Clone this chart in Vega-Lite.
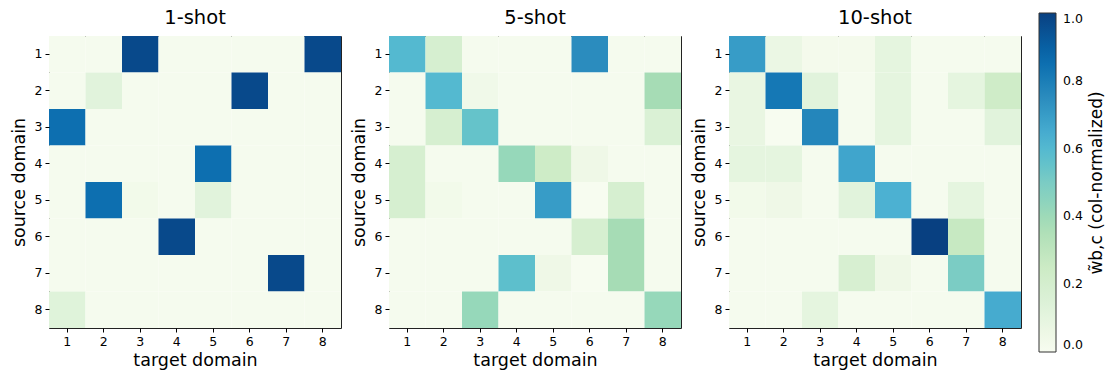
{
  "$schema": "https://vega.github.io/schema/vega-lite/v6.json",
  "padding": {"left": 9, "top": 7, "right": 5, "bottom": 5},
  "background": "white",
  "data": {"values": [
    {"shot":"1-shot","src":1,"tgt":1,"v":0.01},{"shot":"1-shot","src":1,"tgt":2,"v":0.01},{"shot":"1-shot","src":1,"tgt":3,"v":0.97},{"shot":"1-shot","src":1,"tgt":4,"v":0.01},{"shot":"1-shot","src":1,"tgt":5,"v":0.01},{"shot":"1-shot","src":1,"tgt":6,"v":0.01},{"shot":"1-shot","src":1,"tgt":7,"v":0.01},{"shot":"1-shot","src":1,"tgt":8,"v":0.97},
    {"shot":"1-shot","src":2,"tgt":1,"v":0.01},{"shot":"1-shot","src":2,"tgt":2,"v":0.12},{"shot":"1-shot","src":2,"tgt":3,"v":0.01},{"shot":"1-shot","src":2,"tgt":4,"v":0.01},{"shot":"1-shot","src":2,"tgt":5,"v":0.01},{"shot":"1-shot","src":2,"tgt":6,"v":0.97},{"shot":"1-shot","src":2,"tgt":7,"v":0.01},{"shot":"1-shot","src":2,"tgt":8,"v":0.01},
    {"shot":"1-shot","src":3,"tgt":1,"v":0.85},{"shot":"1-shot","src":3,"tgt":2,"v":0.01},{"shot":"1-shot","src":3,"tgt":3,"v":0.01},{"shot":"1-shot","src":3,"tgt":4,"v":0.01},{"shot":"1-shot","src":3,"tgt":5,"v":0.01},{"shot":"1-shot","src":3,"tgt":6,"v":0.01},{"shot":"1-shot","src":3,"tgt":7,"v":0.01},{"shot":"1-shot","src":3,"tgt":8,"v":0.01},
    {"shot":"1-shot","src":4,"tgt":1,"v":0.01},{"shot":"1-shot","src":4,"tgt":2,"v":0.01},{"shot":"1-shot","src":4,"tgt":3,"v":0.01},{"shot":"1-shot","src":4,"tgt":4,"v":0.01},{"shot":"1-shot","src":4,"tgt":5,"v":0.85},{"shot":"1-shot","src":4,"tgt":6,"v":0.01},{"shot":"1-shot","src":4,"tgt":7,"v":0.01},{"shot":"1-shot","src":4,"tgt":8,"v":0.01},
    {"shot":"1-shot","src":5,"tgt":1,"v":0.01},{"shot":"1-shot","src":5,"tgt":2,"v":0.85},{"shot":"1-shot","src":5,"tgt":3,"v":0.03},{"shot":"1-shot","src":5,"tgt":4,"v":0.01},{"shot":"1-shot","src":5,"tgt":5,"v":0.12},{"shot":"1-shot","src":5,"tgt":6,"v":0.01},{"shot":"1-shot","src":5,"tgt":7,"v":0.01},{"shot":"1-shot","src":5,"tgt":8,"v":0.01},
    {"shot":"1-shot","src":6,"tgt":1,"v":0.01},{"shot":"1-shot","src":6,"tgt":2,"v":0.01},{"shot":"1-shot","src":6,"tgt":3,"v":0.01},{"shot":"1-shot","src":6,"tgt":4,"v":0.97},{"shot":"1-shot","src":6,"tgt":5,"v":0.01},{"shot":"1-shot","src":6,"tgt":6,"v":0.01},{"shot":"1-shot","src":6,"tgt":7,"v":0.01},{"shot":"1-shot","src":6,"tgt":8,"v":0.01},
    {"shot":"1-shot","src":7,"tgt":1,"v":0.01},{"shot":"1-shot","src":7,"tgt":2,"v":0.01},{"shot":"1-shot","src":7,"tgt":3,"v":0.01},{"shot":"1-shot","src":7,"tgt":4,"v":0.01},{"shot":"1-shot","src":7,"tgt":5,"v":0.01},{"shot":"1-shot","src":7,"tgt":6,"v":0.01},{"shot":"1-shot","src":7,"tgt":7,"v":0.97},{"shot":"1-shot","src":7,"tgt":8,"v":0.01},
    {"shot":"1-shot","src":8,"tgt":1,"v":0.13},{"shot":"1-shot","src":8,"tgt":2,"v":0.01},{"shot":"1-shot","src":8,"tgt":3,"v":0.01},{"shot":"1-shot","src":8,"tgt":4,"v":0.01},{"shot":"1-shot","src":8,"tgt":5,"v":0.01},{"shot":"1-shot","src":8,"tgt":6,"v":0.01},{"shot":"1-shot","src":8,"tgt":7,"v":0.01},{"shot":"1-shot","src":8,"tgt":8,"v":0.01},

    {"shot":"5-shot","src":1,"tgt":1,"v":0.6},{"shot":"5-shot","src":1,"tgt":2,"v":0.19},{"shot":"5-shot","src":1,"tgt":3,"v":0.01},{"shot":"5-shot","src":1,"tgt":4,"v":0.01},{"shot":"5-shot","src":1,"tgt":5,"v":0.01},{"shot":"5-shot","src":1,"tgt":6,"v":0.75},{"shot":"5-shot","src":1,"tgt":7,"v":0.01},{"shot":"5-shot","src":1,"tgt":8,"v":0.01},
    {"shot":"5-shot","src":2,"tgt":1,"v":0.01},{"shot":"5-shot","src":2,"tgt":2,"v":0.6},{"shot":"5-shot","src":2,"tgt":3,"v":0.04},{"shot":"5-shot","src":2,"tgt":4,"v":0.01},{"shot":"5-shot","src":2,"tgt":5,"v":0.01},{"shot":"5-shot","src":2,"tgt":6,"v":0.01},{"shot":"5-shot","src":2,"tgt":7,"v":0.01},{"shot":"5-shot","src":2,"tgt":8,"v":0.38},
    {"shot":"5-shot","src":3,"tgt":1,"v":0.01},{"shot":"5-shot","src":3,"tgt":2,"v":0.19},{"shot":"5-shot","src":3,"tgt":3,"v":0.55},{"shot":"5-shot","src":3,"tgt":4,"v":0.01},{"shot":"5-shot","src":3,"tgt":5,"v":0.01},{"shot":"5-shot","src":3,"tgt":6,"v":0.01},{"shot":"5-shot","src":3,"tgt":7,"v":0.01},{"shot":"5-shot","src":3,"tgt":8,"v":0.16},
    {"shot":"5-shot","src":4,"tgt":1,"v":0.19},{"shot":"5-shot","src":4,"tgt":2,"v":0.01},{"shot":"5-shot","src":4,"tgt":3,"v":0.01},{"shot":"5-shot","src":4,"tgt":4,"v":0.42},{"shot":"5-shot","src":4,"tgt":5,"v":0.24},{"shot":"5-shot","src":4,"tgt":6,"v":0.05},{"shot":"5-shot","src":4,"tgt":7,"v":0.01},{"shot":"5-shot","src":4,"tgt":8,"v":0.01},
    {"shot":"5-shot","src":5,"tgt":1,"v":0.19},{"shot":"5-shot","src":5,"tgt":2,"v":0.03},{"shot":"5-shot","src":5,"tgt":3,"v":0.01},{"shot":"5-shot","src":5,"tgt":4,"v":0.01},{"shot":"5-shot","src":5,"tgt":5,"v":0.7},{"shot":"5-shot","src":5,"tgt":6,"v":0.0},{"shot":"5-shot","src":5,"tgt":7,"v":0.19},{"shot":"5-shot","src":5,"tgt":8,"v":0.01},
    {"shot":"5-shot","src":6,"tgt":1,"v":0.01},{"shot":"5-shot","src":6,"tgt":2,"v":0.01},{"shot":"5-shot","src":6,"tgt":3,"v":0.01},{"shot":"5-shot","src":6,"tgt":4,"v":0.01},{"shot":"5-shot","src":6,"tgt":5,"v":0.01},{"shot":"5-shot","src":6,"tgt":6,"v":0.19},{"shot":"5-shot","src":6,"tgt":7,"v":0.38},{"shot":"5-shot","src":6,"tgt":8,"v":0.01},
    {"shot":"5-shot","src":7,"tgt":1,"v":0.01},{"shot":"5-shot","src":7,"tgt":2,"v":0.01},{"shot":"5-shot","src":7,"tgt":3,"v":0.01},{"shot":"5-shot","src":7,"tgt":4,"v":0.57},{"shot":"5-shot","src":7,"tgt":5,"v":0.05},{"shot":"5-shot","src":7,"tgt":6,"v":0.0},{"shot":"5-shot","src":7,"tgt":7,"v":0.38},{"shot":"5-shot","src":7,"tgt":8,"v":0.01},
    {"shot":"5-shot","src":8,"tgt":1,"v":0.01},{"shot":"5-shot","src":8,"tgt":2,"v":0.01},{"shot":"5-shot","src":8,"tgt":3,"v":0.42},{"shot":"5-shot","src":8,"tgt":4,"v":0.01},{"shot":"5-shot","src":8,"tgt":5,"v":0.01},{"shot":"5-shot","src":8,"tgt":6,"v":0.01},{"shot":"5-shot","src":8,"tgt":7,"v":0.01},{"shot":"5-shot","src":8,"tgt":8,"v":0.42},

    {"shot":"10-shot","src":1,"tgt":1,"v":0.7},{"shot":"10-shot","src":1,"tgt":2,"v":0.07},{"shot":"10-shot","src":1,"tgt":3,"v":0.02},{"shot":"10-shot","src":1,"tgt":4,"v":0.02},{"shot":"10-shot","src":1,"tgt":5,"v":0.1},{"shot":"10-shot","src":1,"tgt":6,"v":0.01},{"shot":"10-shot","src":1,"tgt":7,"v":0.01},{"shot":"10-shot","src":1,"tgt":8,"v":0.01},
    {"shot":"10-shot","src":2,"tgt":1,"v":0.08},{"shot":"10-shot","src":2,"tgt":2,"v":0.82},{"shot":"10-shot","src":2,"tgt":3,"v":0.12},{"shot":"10-shot","src":2,"tgt":4,"v":0.01},{"shot":"10-shot","src":2,"tgt":5,"v":0.1},{"shot":"10-shot","src":2,"tgt":6,"v":0.01},{"shot":"10-shot","src":2,"tgt":7,"v":0.1},{"shot":"10-shot","src":2,"tgt":8,"v":0.23},
    {"shot":"10-shot","src":3,"tgt":1,"v":0.08},{"shot":"10-shot","src":3,"tgt":2,"v":0.0},{"shot":"10-shot","src":3,"tgt":3,"v":0.77},{"shot":"10-shot","src":3,"tgt":4,"v":0.01},{"shot":"10-shot","src":3,"tgt":5,"v":0.1},{"shot":"10-shot","src":3,"tgt":6,"v":0.01},{"shot":"10-shot","src":3,"tgt":7,"v":0.01},{"shot":"10-shot","src":3,"tgt":8,"v":0.12},
    {"shot":"10-shot","src":4,"tgt":1,"v":0.1},{"shot":"10-shot","src":4,"tgt":2,"v":0.1},{"shot":"10-shot","src":4,"tgt":3,"v":0.01},{"shot":"10-shot","src":4,"tgt":4,"v":0.67},{"shot":"10-shot","src":4,"tgt":5,"v":0.01},{"shot":"10-shot","src":4,"tgt":6,"v":0.01},{"shot":"10-shot","src":4,"tgt":7,"v":0.01},{"shot":"10-shot","src":4,"tgt":8,"v":0.01},
    {"shot":"10-shot","src":5,"tgt":1,"v":0.03},{"shot":"10-shot","src":5,"tgt":2,"v":0.05},{"shot":"10-shot","src":5,"tgt":3,"v":0.01},{"shot":"10-shot","src":5,"tgt":4,"v":0.12},{"shot":"10-shot","src":5,"tgt":5,"v":0.63},{"shot":"10-shot","src":5,"tgt":6,"v":0.01},{"shot":"10-shot","src":5,"tgt":7,"v":0.1},{"shot":"10-shot","src":5,"tgt":8,"v":0.01},
    {"shot":"10-shot","src":6,"tgt":1,"v":0.01},{"shot":"10-shot","src":6,"tgt":2,"v":0.01},{"shot":"10-shot","src":6,"tgt":3,"v":0.01},{"shot":"10-shot","src":6,"tgt":4,"v":0.01},{"shot":"10-shot","src":6,"tgt":5,"v":0.01},{"shot":"10-shot","src":6,"tgt":6,"v":1.0},{"shot":"10-shot","src":6,"tgt":7,"v":0.27},{"shot":"10-shot","src":6,"tgt":8,"v":0.01},
    {"shot":"10-shot","src":7,"tgt":1,"v":0.01},{"shot":"10-shot","src":7,"tgt":2,"v":0.01},{"shot":"10-shot","src":7,"tgt":3,"v":0.01},{"shot":"10-shot","src":7,"tgt":4,"v":0.18},{"shot":"10-shot","src":7,"tgt":5,"v":0.05},{"shot":"10-shot","src":7,"tgt":6,"v":0.01},{"shot":"10-shot","src":7,"tgt":7,"v":0.5},{"shot":"10-shot","src":7,"tgt":8,"v":0.01},
    {"shot":"10-shot","src":8,"tgt":1,"v":0.01},{"shot":"10-shot","src":8,"tgt":2,"v":0.01},{"shot":"10-shot","src":8,"tgt":3,"v":0.1},{"shot":"10-shot","src":8,"tgt":4,"v":0.01},{"shot":"10-shot","src":8,"tgt":5,"v":0.01},{"shot":"10-shot","src":8,"tgt":6,"v":0.01},{"shot":"10-shot","src":8,"tgt":7,"v":0.01},{"shot":"10-shot","src":8,"tgt":8,"v":0.65}
  ]},
  "facet": {
    "column": {
      "field": "shot",
      "type": "nominal",
      "sort": ["1-shot", "5-shot", "10-shot"],
      "header": {"title": null, "labelFontSize": 19.5, "labelColor": "black", "labelPadding": 8, "labelFont": "DejaVu Sans"}
    }
  },
  "spacing": 48,
  "bounds": "flush",
  "resolve": {"axis": {"y": "independent", "x": "independent"}},
  "spec": {
    "width": 292,
    "height": 292,
    "mark": {"type": "rect", "strokeWidth": 0},
    "encoding": {
      "x": {"field": "tgt", "type": "ordinal", "title": "target domain",
            "scale": {"paddingInner": 0, "paddingOuter": 0},
            "axis": {"labelAngle": 0}},
      "y": {"field": "src", "type": "ordinal", "title": "source domain",
            "scale": {"paddingInner": 0, "paddingOuter": 0}},
      "color": {"field": "v", "type": "quantitative",
                "scale": {"domain": [0, 0.125, 0.25, 0.375, 0.5, 0.625, 0.75, 0.875, 1],
                          "range": ["#f7fcf0","#e0f3db","#ccebc5","#a8ddb5","#7bccc4","#4eb3d3","#2b8cbe","#0868ac","#084081"]},
                "legend": {
                  "title": "w̃b,c (col-normalized)",
                  "values": [0, 0.2, 0.4, 0.6, 0.8, 1.0],
                  "format": ".1f",
                  "orient": "none",
                  "legendX": 990,
                  "legendY": -23,
                  "gradientLength": 339,
                  "gradientThickness": 17,
                  "gradientStrokeColor": "#333",
                  "gradientStrokeWidth": 1,
                  "titleOrient": "right",
                  "titleLimit": 500,
                  "labelFontSize": 12.5,
                  "labelColor": "black",
                  "titleFontSize": 17,
                  "titleFontWeight": "normal",
                  "titleColor": "black",
                  "titleFont": "DejaVu Sans",
                  "labelFont": "DejaVu Sans",
                  "labelOffset": 7,
                  "titlePadding": 6,
                  "encode": {"title": {"update": {"angle": {"value": 270}, "baseline": {"value": "top"}}}}
                }}
    }
  },
  "config": {
    "font": "DejaVu Sans",
    "view": {"stroke": "#222", "strokeWidth": 1},
    "axis": {
      "domain": false,
      "ticks": true,
      "tickColor": "black",
      "tickSize": 4,
      "labelFontSize": 12.5,
      "labelColor": "black",
      "labelPadding": 3,
      "titleFontSize": 17.5,
      "titleFontWeight": "normal",
      "titleColor": "black",
      "grid": false
    },
    "axisX": {"titlePadding": 4},
    "axisY": {"titlePadding": 6}
  }
}
